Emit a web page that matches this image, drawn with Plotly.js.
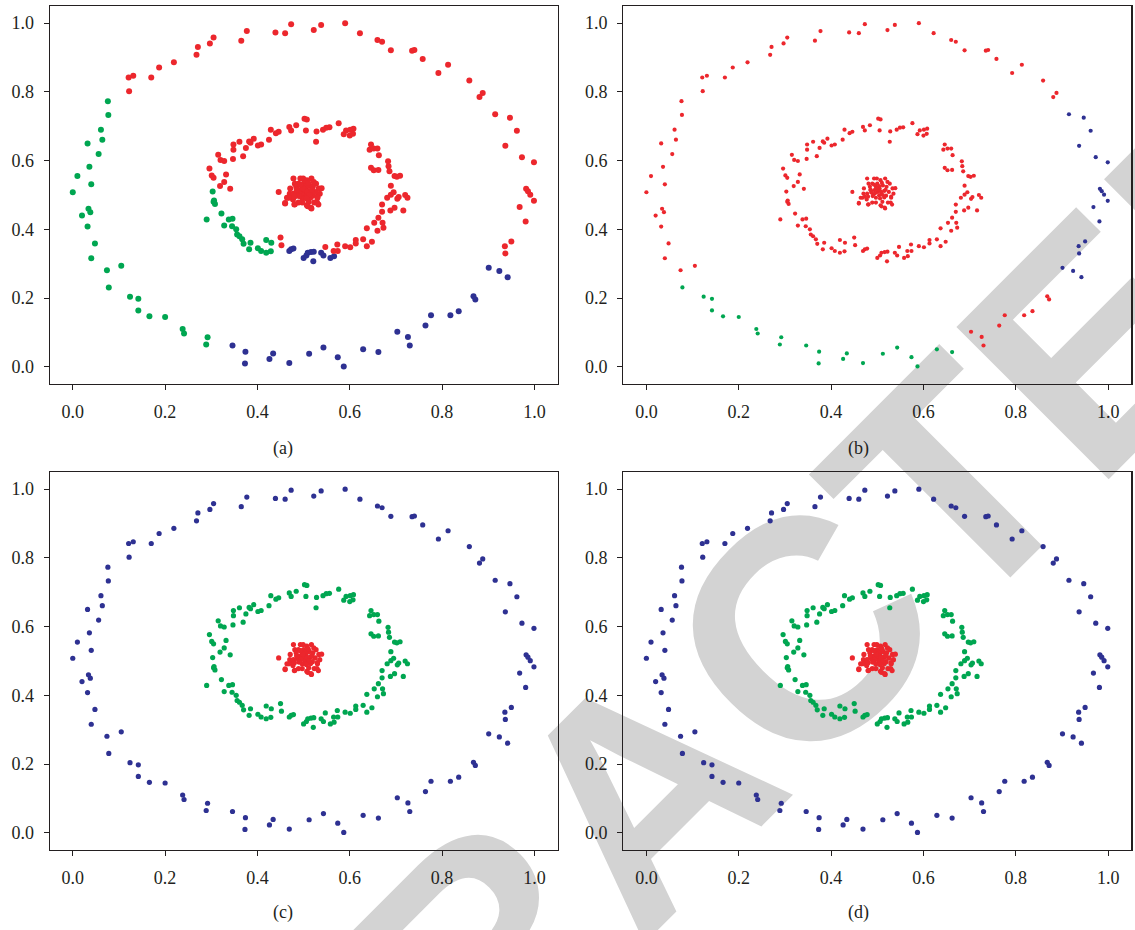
<!DOCTYPE html>
<html>
<head>
<meta charset="utf-8">
<script src="https://cdn.plot.ly/plotly-3.0.1.min.js"></script>
<style>
  html, body { margin: 0; padding: 0; background: #ffffff; }
  #chart { width: 1135px; height: 930px; }
</style>
</head>
<body>
<div id="chart"></div>
<script>
// ---- Outer ring, split into arcs (going clockwise from the upper left) ----
const outerTopX = [0.122,0.121,0.131,0.170,0.187,0.219,0.268,0.271,0.297,0.305,0.365,0.377,0.439,0.460,0.473,0.522,0.538,0.590,0.622,0.660,0.670,0.689,0.735,0.740,0.758,0.792,0.813,0.859,0.881,0.888];
const outerTopY = [0.802,0.842,0.847,0.842,0.871,0.886,0.908,0.931,0.941,0.958,0.949,0.977,0.973,0.971,0.997,0.980,0.995,1.000,0.971,0.951,0.946,0.921,0.920,0.922,0.896,0.855,0.879,0.833,0.785,0.797];
const outerRightX = [0.915,0.947,0.962,0.937,0.973,0.999,0.982,0.986,0.991,0.999,0.968,0.981,0.950,0.936,0.937];
const outerRightY = [0.735,0.725,0.687,0.643,0.610,0.595,0.518,0.511,0.501,0.483,0.465,0.423,0.365,0.351,0.330];
const outerLowRightX = [0.901,0.924,0.942];
const outerLowRightY = [0.288,0.279,0.261];
const outerBottomRightX = [0.868,0.872,0.836,0.818,0.776,0.764,0.703,0.726,0.730];
const outerBottomRightY = [0.205,0.196,0.162,0.150,0.150,0.120,0.102,0.087,0.062];
const outerBottomX = [0.662,0.629,0.587,0.574,0.543,0.512,0.469,0.434,0.426,0.373,0.374,0.346];
const outerBottomY = [0.043,0.051,0.001,0.028,0.056,0.038,0.011,0.039,0.023,0.010,0.044,0.062];
const outerLowLeftX = [0.289,0.292,0.241,0.238,0.200,0.166,0.142,0.142,0.124,0.078];
const outerLowLeftY = [0.065,0.086,0.097,0.110,0.145,0.147,0.164,0.198,0.204,0.231];
const outerLeftX = [0.105,0.074,0.040,0.048,0.032,0.020,0.038,0.034,0.000,0.040,0.010,0.036,0.056,0.032,0.064,0.061,0.077,0.076];
const outerLeftY = [0.294,0.281,0.316,0.359,0.408,0.440,0.450,0.460,0.508,0.531,0.555,0.582,0.619,0.650,0.661,0.690,0.733,0.773];

// ---- Middle ring, split into arcs ----
const midUpperX = [
  0.547,0.565,0.574,0.573,0.590,0.601,0.613,0.613,0.629,0.637,0.648,0.637,0.660,0.653,0.671,0.673,0.662,0.670,0.688,0.697,0.670,0.681,0.689,0.695,0.703,0.706,0.720,0.725,0.716,
  0.683,0.684,0.686,0.697,0.702,0.709,0.689,0.646,0.652,0.662,0.663,
  0.643,0.646,0.652,0.660,0.608,0.601,0.592,0.587,0.600,0.607,0.576,0.556,0.549,0.542,0.528,0.527,0.507,0.502,0.505,0.484,0.473,0.469,0.446,0.440,0.429,0.425,0.408,0.401,0.392,0.385,0.382,0.375,0.369,0.361,0.348,0.348,0.347,
  0.315,0.320,0.328,0.296,0.301,0.305,0.332,0.328,0.319,0.341];
const midUpperY = [
  0.349,0.337,0.337,0.356,0.351,0.348,0.369,0.359,0.371,0.351,0.364,0.403,0.396,0.419,0.419,0.405,0.434,0.451,0.455,0.463,0.472,0.492,0.501,0.508,0.489,0.494,0.500,0.492,0.455,
  0.598,0.584,0.569,0.555,0.553,0.556,0.527,0.579,0.572,0.573,0.616,
  0.632,0.647,0.635,0.635,0.693,0.690,0.688,0.677,0.673,0.678,0.709,0.697,0.696,0.690,0.685,0.655,0.720,0.722,0.688,0.703,0.688,0.698,0.684,0.680,0.690,0.661,0.647,0.644,0.664,0.652,0.656,0.637,0.613,0.655,0.647,0.632,0.605,
  0.617,0.602,0.599,0.577,0.557,0.550,0.560,0.538,0.526,0.518];
const midLowLeftX = [0.303,0.305,0.306,0.308,0.290,0.322,0.328,0.338,0.346,0.345,0.354,0.356,0.361,0.367,0.370,0.385,0.382,0.401,0.408,0.419,0.429,0.419,0.430];
const midLowLeftY = [0.510,0.480,0.484,0.474,0.429,0.446,0.411,0.429,0.431,0.409,0.400,0.385,0.380,0.371,0.358,0.361,0.342,0.345,0.337,0.332,0.336,0.369,0.361];
const midLowMidX = [0.450,0.452];
const midLowMidY = [0.376,0.354];
const midBottomX = [0.469,0.473,0.478,0.500,0.506,0.509,0.516,0.522,0.521,0.538,0.543,0.558,0.566];
const midBottomY = [0.337,0.342,0.344,0.317,0.324,0.332,0.334,0.335,0.307,0.332,0.324,0.317,0.322];

// ---- Central blob ----
const coreX = [0.446,0.460,0.464,0.470,0.471,0.478,0.481,0.481,0.486,0.489,0.493,0.497,0.497,0.499,0.501,0.505,0.504,0.507,0.507,0.511,0.515,0.517,0.517,0.519,0.523,0.527,0.530,0.533,0.535,0.539,0.492,0.484,0.500,0.512,0.520,0.489,0.477,0.473,0.525,0.509,0.497,0.515,0.487,0.494,0.504,0.522,0.478,0.529,
  0.460,0.480,0.509,0.516,0.532,0.530,0.468,0.495,0.502,0.508,0.490,0.512,0.498,0.506,0.485,0.518,0.493,0.510,0.480];
const coreY = [0.509,0.475,0.492,0.504,0.519,0.548,0.473,0.533,0.514,0.533,0.548,0.478,0.524,0.548,0.509,0.519,0.499,0.543,0.470,0.480,0.512,0.548,0.461,0.498,0.478,0.533,0.495,0.519,0.504,0.520,0.502,0.524,0.533,0.528,0.524,0.478,0.487,0.495,0.509,0.504,0.492,0.493,0.507,0.514,0.526,0.538,0.504,0.478,
  0.477,0.472,0.467,0.463,0.472,0.492,0.492,0.505,0.515,0.510,0.497,0.500,0.520,0.490,0.515,0.515,0.530,0.535,0.495];

const tickVals = [0, 0.2, 0.4, 0.6, 0.8, 1.0];
const tickLabels = ['0.0', '0.2', '0.4', '0.6', '0.8', '1.0'];
const panelLabels = ['(a)', '(b)', '(c)', '(d)'];

const RED = '#ec272d', GREEN = '#00a651', BLUE = '#2e3192';
const SERIF = "'Liberation Serif', 'DejaVu Serif', 'Times New Roman', serif";

function join(list) {
  const x = [], y = [];
  list.forEach(([a, b]) => { x.push(...a); y.push(...b); });
  return { x, y };
}
const oTop = [outerTopX, outerTopY], oRight = [outerRightX, outerRightY],
      oLowRight = [outerLowRightX, outerLowRightY], oBotRight = [outerBottomRightX, outerBottomRightY],
      oBottom = [outerBottomX, outerBottomY], oLowLeft = [outerLowLeftX, outerLowLeftY],
      oLeft = [outerLeftX, outerLeftY];
const mUpper = [midUpperX, midUpperY], mLowLeft = [midLowLeftX, midLowLeftY],
      mLowMid = [midLowMidX, midLowMidY], mBottom = [midBottomX, midBottomY];
const core = [coreX, coreY];

// cluster assignment shown in each panel
const panels = [
  { red: [oTop, oRight, mUpper, mLowMid, core], green: [oLowLeft, oLeft, mLowLeft], blue: [oLowRight, oBotRight, oBottom, mBottom], size: 6 },
  { red: [oTop, oBotRight, oLeft, mUpper, mLowLeft, mLowMid, mBottom, core], green: [oBottom, oLowLeft], blue: [oRight, oLowRight], size: 4.2 },
  { red: [core], green: [mUpper, mLowLeft, mLowMid, mBottom], blue: [oTop, oRight, oLowRight, oBotRight, oBottom, oLowLeft, oLeft], size: 5.2 },
  { red: [core], green: [mUpper, mLowLeft, mLowMid, mBottom], blue: [oTop, oRight, oLowRight, oBotRight, oBottom, oLowLeft, oLeft], size: 5.2 }
];

const traces = [];
panels.forEach((p, i) => {
  const n = i === 0 ? '' : String(i + 1);
  [['blue', BLUE], ['green', GREEN], ['red', RED]].forEach(([k, col]) => {
    const d = join(p[k]);
    traces.push({
      type: 'scatter', mode: 'markers', x: d.x, y: d.y,
      xaxis: 'x' + n, yaxis: 'y' + n,
      marker: { color: col, size: p.size, line: { width: 0 } },
      hoverinfo: 'skip', showlegend: false
    });
  });
});

const W = 1135, H = 930;
const colX = [[49.7, 557.5], [623.3, 1131.3]];
const rowY = [[6, 384], [472, 850]];
const labelX = [283, 858];
const labelY = [448, 912];

function axis(domain, anchor) {
  return {
    domain, anchor, range: [-0.05, 1.05],
    tickmode: 'array', tickvals: tickVals, ticktext: tickLabels,
    ticks: 'outside', ticklen: 5, tickwidth: 1, tickcolor: '#231f20',
    showline: true, linecolor: '#231f20', linewidth: 1.2, mirror: true,
    showgrid: false, zeroline: false, fixedrange: true,
    ticklabelstandoff: 6,
    tickfont: { family: SERIF, size: 18, color: '#231f20' }
  };
}

const layout = {
  width: W, height: H,
  margin: { l: 0, r: 0, t: 0, b: 0 },
  paper_bgcolor: '#ffffff', plot_bgcolor: 'rgba(0,0,0,0)',
  showlegend: false, annotations: [], shapes: []
};

for (let i = 0; i < 4; i++) {
  const c = colX[i % 2], r = rowY[Math.floor(i / 2)];
  const n = i === 0 ? '' : String(i + 1);
  layout['xaxis' + n] = axis([c[0] / W, c[1] / W], 'y' + n);
  layout['yaxis' + n] = axis([1 - r[1] / H, 1 - r[0] / H], 'x' + n);
  layout.annotations.push({
    xref: 'paper', yref: 'paper', showarrow: false,
    x: labelX[i % 2] / W, y: 1 - labelY[Math.floor(i / 2)] / H,
    xanchor: 'center', yanchor: 'middle', text: panelLabels[i],
    font: { family: SERIF, size: 18, color: '#231f20' }
  });
}

// large grey notice lettering, diagonal, behind the markers
const cx = 621, cy = 771;
layout.shapes.push({
  type: 'rect', xref: 'paper', yref: 'paper', layer: 'below',
  x0: (cx - 2) / W, x1: (cx + 2) / W, y0: 1 - (cy + 2) / H, y1: 1 - (cy - 2) / H,
  line: { width: 0 }, fillcolor: 'rgba(0,0,0,0)',
  label: {
    text: 'RETRACTED', textangle: -45, textposition: 'middle center', padding: 0,
    font: { family: "'Liberation Sans', Arial, sans-serif", size: 313, color: '#d3d3d3', weight: 'bold' }
  }
});

Plotly.newPlot('chart', traces, layout, { staticPlot: true, displayModeBar: false });
</script>
</body>
</html>
